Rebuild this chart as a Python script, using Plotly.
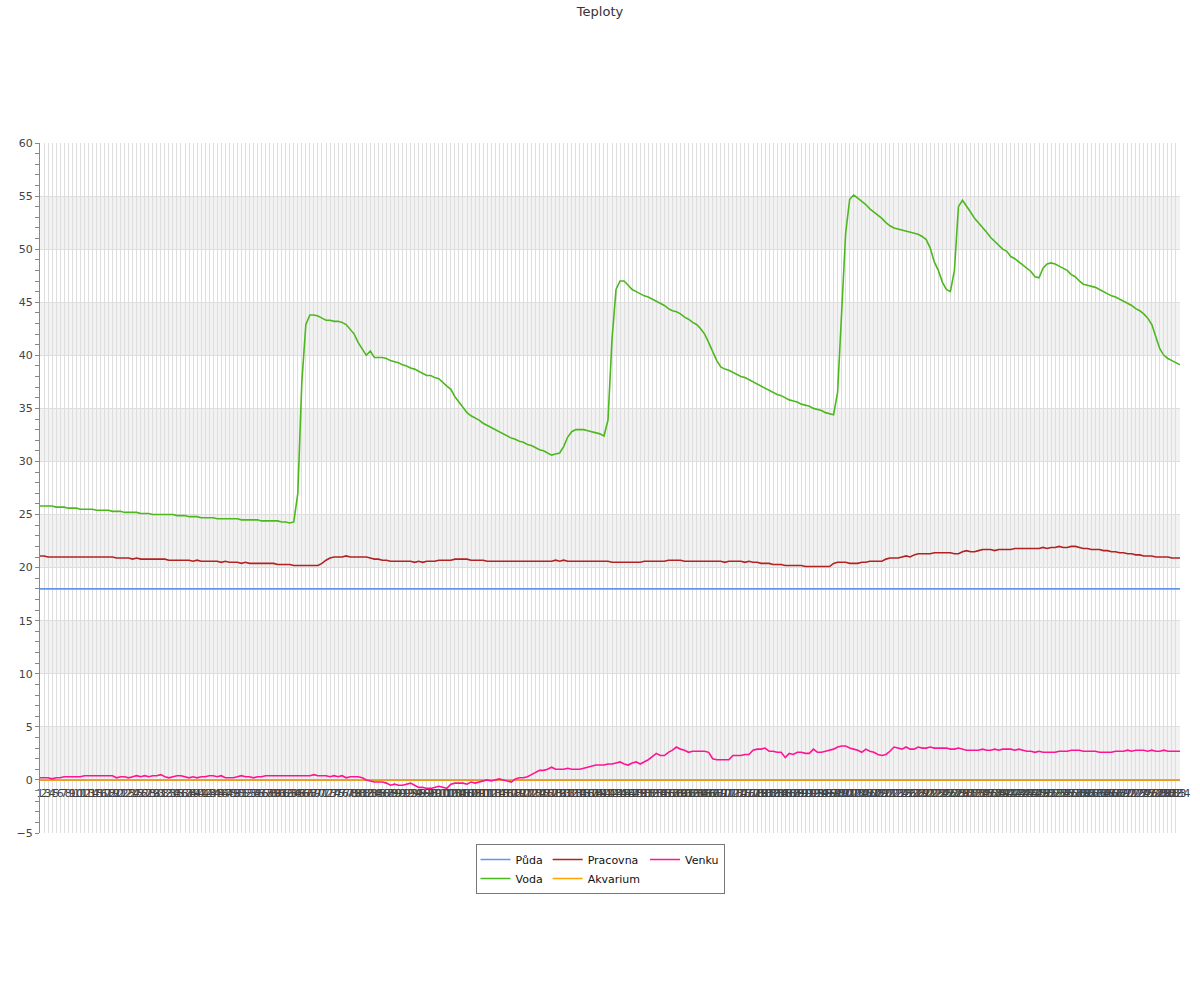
import plotly.graph_objects as go

labels = [str(n) for n in range(1, 285)]

puda = [18.0] * 284
akvarium = [0.0] * 284

voda = [
    25.8, 25.8, 25.8, 25.8, 25.7, 25.7, 25.7, 25.6, 25.6, 25.6,
    25.5, 25.5, 25.5, 25.5, 25.4, 25.4, 25.4, 25.4, 25.3, 25.3,
    25.3, 25.2, 25.2, 25.2, 25.2, 25.1, 25.1, 25.1, 25.0, 25.0,
    25.0, 25.0, 25.0, 25.0, 24.9, 24.9, 24.9, 24.8, 24.8, 24.8,
    24.7, 24.7, 24.7, 24.7, 24.6, 24.6, 24.6, 24.6, 24.6, 24.6,
    24.5, 24.5, 24.5, 24.5, 24.5, 24.4, 24.4, 24.4, 24.4, 24.4,
    24.3, 24.3, 24.2, 24.3, 27.0, 37.5, 42.9, 43.8, 43.8, 43.7,
    43.5, 43.3, 43.3, 43.2, 43.2, 43.1, 42.9, 42.5, 42.0, 41.2,
    40.6, 40.0, 40.4, 39.8, 39.8, 39.8, 39.7, 39.5, 39.4, 39.3,
    39.1, 39.0, 38.8, 38.7, 38.5, 38.3, 38.1, 38.1, 37.9, 37.8,
    37.4, 37.1, 36.8, 36.1, 35.6, 35.1, 34.6, 34.3, 34.1, 33.9,
    33.6, 33.4, 33.2, 33.0, 32.8, 32.6, 32.4, 32.2, 32.1, 31.9,
    31.8, 31.6, 31.5, 31.3, 31.1, 31.0, 30.8, 30.6, 30.7, 30.8,
    31.4, 32.3, 32.8, 33.0, 33.0, 33.0, 32.9, 32.8, 32.7, 32.6,
    32.4, 33.9, 41.5, 46.2, 47.0, 47.0, 46.6, 46.2, 46.0, 45.8,
    45.6, 45.5, 45.3, 45.1, 44.9, 44.7, 44.4, 44.2, 44.1, 43.9,
    43.6, 43.4, 43.1, 42.9, 42.5, 42.0, 41.2, 40.3, 39.5, 38.9,
    38.7, 38.6, 38.4, 38.2, 38.0, 37.9, 37.7, 37.5, 37.3, 37.1,
    36.9, 36.7, 36.5, 36.3, 36.2, 36.0, 35.8, 35.7, 35.6, 35.4,
    35.3, 35.2, 35.0, 34.9, 34.8, 34.6, 34.5, 34.4, 36.5, 44.6,
    51.5, 54.7, 55.1, 54.8, 54.5, 54.2, 53.8, 53.5, 53.2, 52.9,
    52.5, 52.2, 52.0, 51.9, 51.8, 51.7, 51.6, 51.5, 51.4, 51.2,
    50.9, 50.1, 48.8, 48.0, 46.9, 46.2, 46.0, 48.0, 54.0, 54.6,
    54.1, 53.5, 52.9, 52.5, 52.0, 51.6, 51.1, 50.7, 50.3, 50.0,
    49.8, 49.3, 49.1, 48.8, 48.5, 48.2, 47.9, 47.4, 47.3, 48.2,
    48.6, 48.7, 48.6, 48.4, 48.2, 48.0, 47.6, 47.4, 47.0, 46.7,
    46.6, 46.5, 46.4, 46.2, 46.0, 45.8, 45.6, 45.5, 45.3, 45.1,
    44.9, 44.7, 44.4, 44.2, 43.9, 43.5, 42.9, 41.8, 40.6, 40.0,
    39.7, 39.5, 39.3, 39.1,
]

pracovna = [
    21.1, 21.1, 21.0, 21.0, 21.0, 21.0, 21.0, 21.0, 21.0, 21.0,
    21.0, 21.0, 21.0, 21.0, 21.0, 21.0, 21.0, 21.0, 21.0, 20.9,
    20.9, 20.9, 20.9, 20.8, 20.9, 20.8, 20.8, 20.8, 20.8, 20.8,
    20.8, 20.8, 20.7, 20.7, 20.7, 20.7, 20.7, 20.7, 20.6, 20.7,
    20.6, 20.6, 20.6, 20.6, 20.6, 20.5, 20.6, 20.5, 20.5, 20.5,
    20.4, 20.5, 20.4, 20.4, 20.4, 20.4, 20.4, 20.4, 20.4, 20.3,
    20.3, 20.3, 20.3, 20.2, 20.2, 20.2, 20.2, 20.2, 20.2, 20.2,
    20.4, 20.7, 20.9, 21.0, 21.0, 21.0, 21.1, 21.0, 21.0, 21.0,
    21.0, 21.0, 20.9, 20.8, 20.8, 20.7, 20.7, 20.6, 20.6, 20.6,
    20.6, 20.6, 20.6, 20.5, 20.6, 20.5, 20.6, 20.6, 20.6, 20.7,
    20.7, 20.7, 20.7, 20.8, 20.8, 20.8, 20.8, 20.7, 20.7, 20.7,
    20.7, 20.6, 20.6, 20.6, 20.6, 20.6, 20.6, 20.6, 20.6, 20.6,
    20.6, 20.6, 20.6, 20.6, 20.6, 20.6, 20.6, 20.6, 20.7, 20.6,
    20.7, 20.6, 20.6, 20.6, 20.6, 20.6, 20.6, 20.6, 20.6, 20.6,
    20.6, 20.6, 20.5, 20.5, 20.5, 20.5, 20.5, 20.5, 20.5, 20.5,
    20.6, 20.6, 20.6, 20.6, 20.6, 20.6, 20.7, 20.7, 20.7, 20.7,
    20.6, 20.6, 20.6, 20.6, 20.6, 20.6, 20.6, 20.6, 20.6, 20.6,
    20.5, 20.6, 20.6, 20.6, 20.6, 20.5, 20.6, 20.5, 20.5, 20.4,
    20.4, 20.4, 20.3, 20.3, 20.3, 20.2, 20.2, 20.2, 20.2, 20.2,
    20.1, 20.1, 20.1, 20.1, 20.1, 20.1, 20.1, 20.4, 20.5, 20.5,
    20.5, 20.4, 20.4, 20.4, 20.5, 20.5, 20.6, 20.6, 20.6, 20.6,
    20.8, 20.9, 20.9, 20.9, 21.0, 21.1, 21.0, 21.2, 21.3, 21.3,
    21.3, 21.3, 21.4, 21.4, 21.4, 21.4, 21.4, 21.3, 21.3, 21.5,
    21.6, 21.5, 21.5, 21.6, 21.7, 21.7, 21.7, 21.6, 21.7, 21.7,
    21.7, 21.7, 21.8, 21.8, 21.8, 21.8, 21.8, 21.8, 21.8, 21.9,
    21.8, 21.9, 21.9, 22.0, 21.9, 21.9, 22.0, 22.0, 21.9, 21.8,
    21.8, 21.7, 21.7, 21.7, 21.6, 21.6, 21.5, 21.5, 21.4, 21.4,
    21.3, 21.3, 21.2, 21.2, 21.1, 21.1, 21.1, 21.0, 21.0, 21.0,
    21.0, 20.9, 20.9, 20.9,
]

venku = [
    0.2, 0.2, 0.2, 0.1, 0.2, 0.2, 0.3, 0.3, 0.3, 0.3,
    0.3, 0.4, 0.4, 0.4, 0.4, 0.4, 0.4, 0.4, 0.4, 0.2,
    0.3, 0.3, 0.2, 0.3, 0.4, 0.3, 0.4, 0.3, 0.4, 0.4,
    0.5, 0.3, 0.2, 0.3, 0.4, 0.4, 0.3, 0.2, 0.3, 0.2,
    0.3, 0.3, 0.4, 0.4, 0.3, 0.4, 0.2, 0.2, 0.2, 0.3,
    0.4, 0.3, 0.3, 0.2, 0.3, 0.3, 0.4, 0.4, 0.4, 0.4,
    0.4, 0.4, 0.4, 0.4, 0.4, 0.4, 0.4, 0.4, 0.5, 0.4,
    0.4, 0.4, 0.3, 0.4, 0.3, 0.4, 0.2, 0.3, 0.3, 0.3,
    0.2, 0.0, -0.1, -0.2, -0.2, -0.2, -0.3, -0.5, -0.4, -0.5,
    -0.5, -0.4, -0.3, -0.5, -0.7, -0.7, -0.8, -0.8, -0.7, -0.6,
    -0.7, -0.8, -0.4, -0.3, -0.3, -0.3, -0.4, -0.2, -0.3, -0.2,
    -0.1, 0.0, -0.1, 0.0, 0.1, 0.0, -0.1, -0.2, 0.1, 0.2,
    0.2, 0.3, 0.5, 0.7, 0.9, 0.9, 1.0, 1.2, 1.0, 1.0,
    1.0, 1.1, 1.0, 1.0, 1.0, 1.1, 1.2, 1.3, 1.4, 1.4,
    1.4, 1.5, 1.5, 1.6, 1.7, 1.5, 1.4, 1.6, 1.7, 1.5,
    1.7, 1.9, 2.2, 2.5, 2.3, 2.3, 2.6, 2.8, 3.1, 2.9,
    2.8, 2.6, 2.7, 2.7, 2.7, 2.7, 2.6, 2.0, 1.9, 1.9,
    1.9, 1.9, 2.3, 2.3, 2.3, 2.4, 2.4, 2.8, 2.9, 2.9,
    3.0, 2.7, 2.7, 2.6, 2.6, 2.1, 2.5, 2.4, 2.6, 2.6,
    2.5, 2.5, 2.9, 2.6, 2.6, 2.7, 2.8, 2.9, 3.1, 3.2,
    3.2, 3.0, 2.9, 2.8, 2.6, 2.9, 2.7, 2.6, 2.4, 2.3,
    2.4, 2.7, 3.1, 3.0, 2.9, 3.1, 2.9, 2.9, 3.1, 3.0,
    3.0, 3.1, 3.0, 3.0, 3.0, 3.0, 2.9, 2.9, 3.0, 2.9,
    2.8, 2.8, 2.8, 2.8, 2.9, 2.8, 2.8, 2.9, 2.8, 2.9,
    2.9, 2.9, 2.8, 2.9, 2.8, 2.7, 2.7, 2.6, 2.7, 2.6,
    2.6, 2.6, 2.6, 2.7, 2.7, 2.7, 2.8, 2.8, 2.8, 2.7,
    2.7, 2.7, 2.7, 2.6, 2.6, 2.6, 2.6, 2.7, 2.7, 2.7,
    2.8, 2.7, 2.8, 2.8, 2.8, 2.7, 2.8, 2.7, 2.7, 2.8,
    2.7, 2.7, 2.7, 2.7,
]

series = [
    ("Půda", puda, "#6495ED", "a"),
    ("Voda", voda, "#4DB81E", "a"),
    ("Pracovna", pracovna, "#B22222", "b"),
    ("Akvarium", akvarium, "#FFA500", "b"),
    ("Venku", venku, "#FF1493", "c"),
]

band_edges = [(0, 5), (10, 15), (20, 25), (30, 35), (40, 45), (50, 55)]

FONT = "DejaVu Sans"

fig = go.Figure()
for name, vals, color, grp in series:
    fig.add_trace(go.Scatter(
        x=labels, y=vals, name=name, mode="lines",
        line=dict(color=color, width=1.6),
        legendgroup=grp,
    ))

shapes = []
for y0, y1 in band_edges:
    shapes.append(dict(type="rect", xref="paper", yref="y", x0=0, x1=1,
                       y0=y0, y1=y1, fillcolor="#f2f2f2", line=dict(width=0),
                       layer="below"))

fig.update_layout(
    width=1200, height=1000,
    paper_bgcolor="white", plot_bgcolor="white",
    margin=dict(l=40, r=20, t=143, b=167, autoexpand=False),
    font=dict(family=FONT, size=11, color="#333"),
    title=dict(text="Teploty", x=0.5, xanchor="center", xref="container",
               y=0.989, yanchor="middle", yref="container",
               font=dict(family=FONT, size=13, color="#333")),
    showlegend=True,
    legend=dict(orientation="h", traceorder="grouped",
                x=0.5, xanchor="center", xref="container",
                y=0.156, yanchor="top", yref="container",
                bordercolor="#777", borderwidth=1, bgcolor="white",
                font=dict(family=FONT, size=11, color="#111"),
                tracegroupgap=0, itemwidth=30),
    shapes=shapes,
)

fig.update_xaxes(
    type="category", range=[0, len(labels) - 1],
    anchor="free", position=5 / 65, automargin=False,
    tickmode="array", tickvals=labels, ticktext=labels,
    tickangle=0, ticks="", ticklabelstandoff=3,
    tickfont=dict(size=11, color="#444"),
    showgrid=True, gridcolor="#dedede", gridwidth=1,
    showline=True, linecolor="#999", linewidth=1,
    layer="below traces", zeroline=False,
)
fig.update_yaxes(
    range=[-5, 60], tickmode="linear", tick0=0, dtick=5, automargin=False,
    ticks="outside", ticklen=4, tickcolor="#888",
    tickfont=dict(size=11, color="#444"),
    showgrid=True, gridcolor="#dedede", gridwidth=1,
    showline=True, linecolor="#888", linewidth=1,
    zeroline=False,
    minor=dict(dtick=1, ticks="outside", ticklen=4, tickcolor="#888", showgrid=False),
)

fig.write_html(
    "out.html",
    config={"displayModeBar": False},
    post_script="document.body.style.margin='0';document.body.style.padding='0';",
)
